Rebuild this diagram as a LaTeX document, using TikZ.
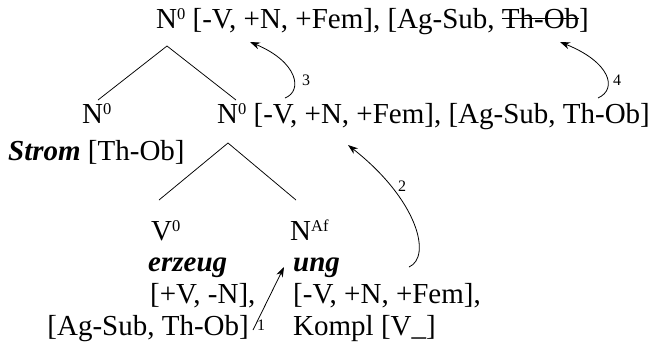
\documentclass[tikz,border=0pt]{standalone}
\usepackage{fontspec}
\setmainfont{Liberation Serif}
\usetikzlibrary{arrows.meta}
% struck-out text
\newcommand\strk[1]{\setbox0\hbox{#1}\rlap{\rule[0.3em]{\wd0}{0.05em}}\box0}
% small raised index, top flush with the capitals
\newcommand\idx[1]{\raisebox{0.3em}{\fontsize{16.5}{17}\selectfont #1}}

\begin{document}
\begin{tikzpicture}[x=1pt,y=-1pt,
  lbl/.style={anchor=base west, inner sep=0pt, font=\fontsize{29}{33}\selectfont},
  num/.style={inner sep=0pt, font=\fontsize{16}{18}\selectfont},
  branch/.style={line width=0.75pt},
  move/.style={line width=0.8pt, -{Stealth[length=10pt,width=7pt]}}]
\useasboundingbox (0,0) rectangle (654,349);

% feature bundles
\node[lbl] (top) at (156,28) {N\idx{0} [-V, +N, +Fem], [Ag-Sub, \strk{Th-Ob}]};
\node[lbl] (midL) at (82,123) {N\idx{0}};
\node[lbl] (midR) at (217,123) {N\idx{0} [-V, +N, +Fem], [Ag-Sub, Th-Ob]};
\node[lbl] (strom) at (8,160) {\textbf{\textit{Strom}} [Th-Ob]};
\node[lbl] (v0) at (151,240) {V\idx{0}};
\node[lbl] (naf) at (290,240) {N\idx{Af}};
\node[lbl] (erz) at (148,271) {\textbf{\textit{erzeug}}};
\node[lbl] (ung) at (293,271) {\textbf{\textit{ung}}};
\node[lbl] (vfeat) at (150,303) {[+V, -N],};
\node[lbl] (nfeat) at (293,303) {[-V, +N, +Fem],};
\node[lbl, anchor=base east] (vargs) at (249,335) {[Ag-Sub, Th-Ob]};
\node[lbl] (kompl) at (293,335) {Kompl [V\_]};

% tree branches
\coordinate (apexA) at (167,46);
\coordinate (legAL) at (98,100);
\coordinate (legAR) at (236,100);
\coordinate (apexB) at (228,143);
\coordinate (legBL) at (159,200);
\coordinate (legBR) at (296,200);
\draw[branch] (legAL) -- (apexA) -- (legAR);
\draw[branch] (legBL) -- (apexB) -- (legBR);

% feature percolation arrows
\coordinate (a1s) at (253,330);
\coordinate (a1e) at (284,267);
\coordinate (a2s) at (409,267);
\coordinate (a2e) at (348,145);
\coordinate (a3s) at (285,98);
\coordinate (a3e) at (250,42);
\coordinate (a4s) at (598,98);
\coordinate (a4e) at (560,42);
\draw[move] (a1s) -- (a1e);
\draw[move] (a2s) .. controls (432,257) and (418,200) .. (a2e);
\draw[move] (a3s) .. controls (303,91) and (298,62) .. (a3e);
\draw[move] (a4s) .. controls (618,89) and (610,62) .. (a4e);

\node[num] (n1) at (261,325) {1};
\node[num] (n2) at (402,186) {2};
\node[num] (n3) at (306,80) {3};
\node[num] (n4) at (617,80) {4};
\end{tikzpicture}
\end{document}
